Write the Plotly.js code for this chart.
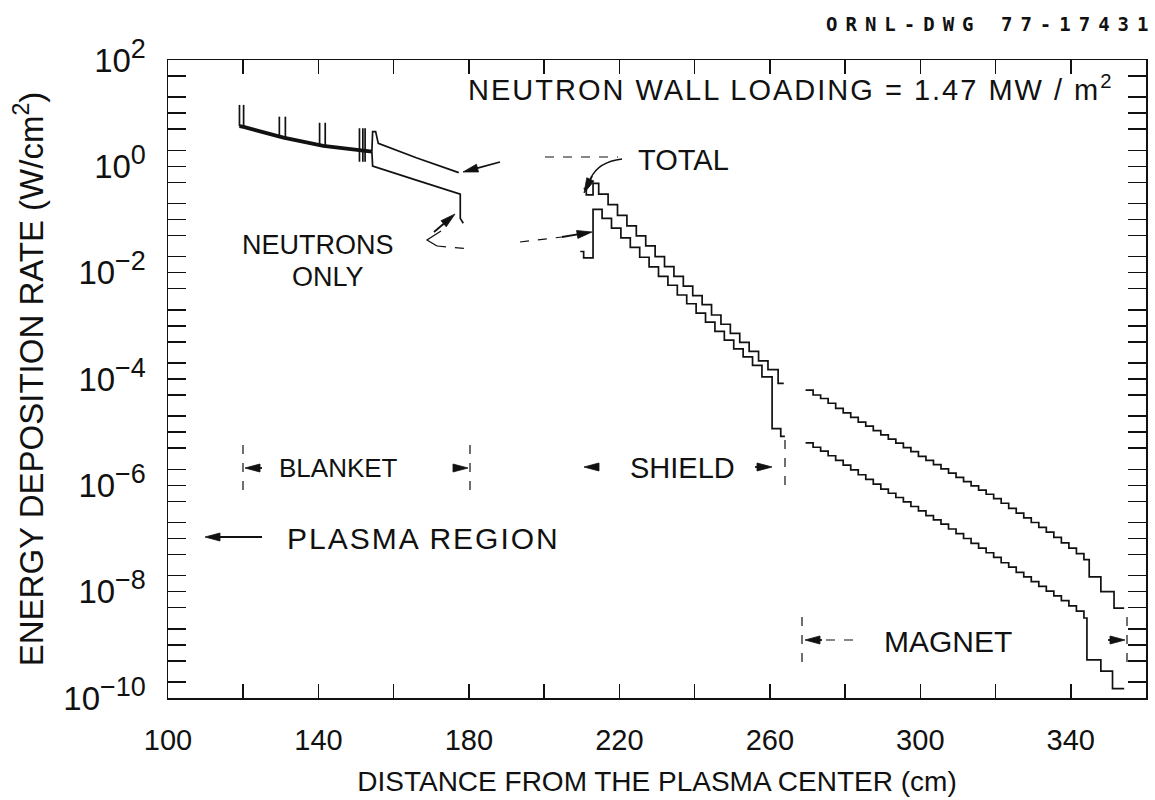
<!DOCTYPE html>
<html>
<head>
<meta charset="utf-8">
<script src="https://cdn.plot.ly/plotly-3.0.1.min.js"></script>
<style>
  html, body { margin: 0; padding: 0; background: #fff; }
  #chart { width: 1155px; height: 800px; }
</style>
</head>
<body>
<div id="chart"></div>
<script>
// ---------------- DATA ----------------
// Blanket region: total and neutrons coincide (heavy line)
const blanketX = [119.0, 120.1, 130.7, 141.3, 154.2];
const blanketY = [5.7, 5.5, 3.46, 2.42, 1.89];

// Narrow spikes in the blanket (structural components)
const spikeX    = [119.0, 120.1, 129.6, 131.2, 140.3, 141.8, 150.9, 151.8, 152.4];
const spikeTop  = [14.3, 14.3, 8.6, 8.6, 6.6, 6.6, 5.2, 5.2, 5.2];
const spikeBase = [5.7, 5.5, 3.6, 3.4, 2.5, 2.4, 1.22, 1.22, 1.22];

// Outer blanket, after the curves separate
const totalOuterX = [154.2, 154.4, 155.2, 155.9, 166.0, 177.3];
const totalOuterY = [1.89, 4.5, 4.5, 2.7, 1.45, 0.76];
const neutronOuterX = [154.2, 154.4, 166.0, 177.7, 177.7, 178.5];
const neutronOuterY = [1.89, 1.01, 0.55, 0.30, 0.105, 0.085];

// Shield region (stepped)
const shieldTotalX = [210.5, 211.2, 213.0, 214.5, 217.0, 219.5, 222.0, 224.5, 227.0, 229.5, 232.0, 234.5,
  237.0, 239.5, 242.0, 244.5, 247.0, 249.5, 252.0, 254.5, 257.0, 259.5, 262.2, 263.7];
const shieldTotalY = [0.38, 0.29, 0.48, 0.30, 0.19, 0.12, 0.076, 0.049, 0.032, 0.020, 0.013, 8.5e-3,
  5.6e-3, 3.7e-3, 2.5e-3, 1.6e-3, 1.07e-3, 7.2e-4, 4.9e-4, 3.3e-4, 2.2e-4, 1.5e-4, 8.3e-5, 8.3e-5];
const shieldNeutronX = [209.6, 210.5, 213.0, 215.4, 217.9, 220.4, 222.9, 225.4, 227.9, 230.4, 232.9, 235.4,
  237.9, 240.4, 242.9, 245.4, 247.9, 250.4, 252.9, 255.4, 257.9, 260.6, 262.9, 264.0];
const shieldNeutronY = [0.025, 0.019, 0.155, 0.105, 0.069, 0.045, 0.030, 0.0195, 0.0129, 8.5e-3, 5.8e-3, 3.8e-3,
  2.6e-3, 1.74e-3, 1.17e-3, 7.9e-4, 5.4e-4, 3.7e-4, 2.6e-4, 1.8e-4, 1.1e-4, 1.17e-5, 8.3e-6, 8.3e-6];

// Magnet region (stepped)
const magnetTotalX = [269.5, 271.5, 273.5, 275.5, 277.5, 279.5, 281.5, 283.5, 285.5, 287.5, 289.5, 291.5,
  293.5, 295.5, 297.5, 299.5, 301.5, 303.5, 305.5, 307.5, 309.5, 311.5, 313.5, 315.5, 317.5, 319.5,
  321.5, 323.5, 325.5, 327.5, 329.5, 331.5, 333.5, 335.5, 337.5, 339.5, 341.5, 343.5,
  344.9, 348.0, 351.5, 354.2];
const magnetTotalY = [6.2e-5, 5.0e-5, 4.3e-5, 3.5e-5, 2.8e-5, 2.3e-5, 1.9e-5, 1.55e-5, 1.3e-5, 1.07e-5,
  8.9e-6, 7.4e-6, 6.2e-6, 5.1e-6, 4.3e-6, 3.5e-6, 2.95e-6, 2.45e-6, 2.04e-6, 1.70e-6, 1.41e-6, 1.17e-6,
  9.8e-7, 8.1e-7, 6.8e-7, 5.6e-7, 4.6e-7, 3.7e-7, 3.0e-7, 2.45e-7, 2.0e-7, 1.62e-7, 1.32e-7, 1.05e-7,
  8.3e-8, 6.6e-8, 5.2e-8, 4.0e-8, 1.9e-8, 1.0e-8, 4.9e-9, 4.9e-9];
const magnetNeutronX = [269.5, 271.5, 273.5, 275.5, 277.5, 279.5, 281.5, 283.5, 285.5, 287.5, 289.5, 291.5,
  293.5, 295.5, 297.5, 299.5, 301.5, 303.5, 305.5, 307.5, 309.5, 311.5, 313.5, 315.5, 317.5, 319.5,
  321.5, 323.5, 325.5, 327.5, 329.5, 331.5, 333.5, 335.5, 337.5, 339.5, 341.5, 343.5,
  344.3, 348.0, 351.1, 354.2];
const magnetNeutronY = [6.3e-6, 5.2e-6, 4.4e-6, 3.6e-6, 2.95e-6, 2.4e-6, 1.95e-6, 1.58e-6, 1.29e-6, 1.05e-6,
  8.5e-7, 7.1e-7, 5.9e-7, 4.9e-7, 4.0e-7, 3.3e-7, 2.7e-7, 2.24e-7, 1.86e-7, 1.51e-7, 1.23e-7, 1.0e-7,
  8.1e-8, 6.6e-8, 5.4e-8, 4.4e-8, 3.5e-8, 2.9e-8, 2.3e-8, 1.9e-8, 1.55e-8, 1.26e-8, 1.02e-8,
  8.3e-9, 6.8e-9, 5.4e-9, 4.3e-9, 3.2e-9, 5.2e-10, 3.2e-10, 1.5e-10, 1.5e-10];

// Ticks and tick labels
const xTickVals = [100, 140, 180, 220, 260, 300, 340];
const xTickText = ['100', '140', '180', '220', '260', '300', '340'];
const xMinorVals = [120, 160, 200, 240, 280, 320];
const yTickVals = [1e-10, 1e-8, 1e-6, 1e-4, 1e-2, 1, 100];
const yExponents = ['−10', '−8', '−6', '−4', '−2', '0', '2'];
const yMinorVals = [2e-10, 5e-10, 1e-9, 2e-9, 5e-9, 2e-8, 5e-8, 1e-7, 2e-7, 5e-7,
  2e-6, 5e-6, 1e-5, 2e-5, 5e-5, 2e-4, 5e-4, 1e-3, 2e-3, 5e-3, 2e-2, 5e-2,
  1e-1, 2e-1, 5e-1, 2, 5, 10, 20, 50];
const yTickText = yExponents.map(e => '10<sup><span style="font-size:27px">' + e + '</span></sup>');

// ---------------- LAYOUT HELPERS ----------------
const W = 1155, H = 800;
const M = { l: 168, r: 9, t: 60, b: 102 };
const PW = W - M.l - M.r, PH = H - M.t - M.b;
const P = px => (px - M.l) / PW;          // pixel x -> paper x
const Q = py => (H - M.b - py) / PH;      // pixel y -> paper y
const FONT = 'Liberation Sans, Arial, sans-serif';
const INK = '#111';

// spikes as one trace with gaps
const spX = [], spY = [];
spikeX.forEach((x, i) => { spX.push(x, x, null); spY.push(spikeBase[i], spikeTop[i], null); });

const lineThin = { color: INK, width: 1.7 };
const stepLine = Object.assign({ shape: 'hv' }, lineThin);
const traces = [
  { x: blanketX, y: blanketY, mode: 'lines', line: { color: INK, width: 3.8 }, name: 'Total + neutrons' },
  { x: spX, y: spY, mode: 'lines', line: { color: INK, width: 1.7 }, name: 'spikes' },
  { x: totalOuterX, y: totalOuterY, mode: 'lines', line: lineThin, name: 'Total' },
  { x: neutronOuterX, y: neutronOuterY, mode: 'lines', line: lineThin, name: 'Neutrons' },
  { x: shieldTotalX, y: shieldTotalY, mode: 'lines', line: stepLine, name: 'Total' },
  { x: shieldNeutronX, y: shieldNeutronY, mode: 'lines', line: stepLine, name: 'Neutrons' },
  { x: magnetTotalX, y: magnetTotalY, mode: 'lines', line: stepLine, name: 'Total' },
  { x: magnetNeutronX, y: magnetNeutronY, mode: 'lines', line: stepLine, name: 'Neutrons' }
];

function txt(text, px, py, size, anchor, extra) {
  return Object.assign({ text: text, xref: 'paper', yref: 'paper', x: P(px), y: Q(py),
    xanchor: anchor || 'left', yanchor: 'middle', showarrow: false,
    font: { family: FONT, size: size, color: INK } }, extra || {});
}
const pt = (x, y) => P(x).toFixed(5) + ',' + Q(y).toFixed(5);
function seg(x0, y0, x1, y1, dash, width) {
  return { type: 'line', xref: 'paper', yref: 'paper', x0: P(x0), y0: Q(y0), x1: P(x1), y1: Q(y1),
    line: { color: INK, width: width || 1.2, dash: dash || 'dash' } };
}
function path(d) {
  return { type: 'path', xref: 'paper', yref: 'paper', path: d, line: { color: INK, width: 1.3 } };
}
// arrow drawn from pixel tail (tx,ty) to head (hx,hy): a stem plus a filled slim head
function arrow(hx, hy, tx, ty, len, half) {
  len = len || 15; half = half || 4;
  const dx = hx - tx, dy = hy - ty, L = Math.hypot(dx, dy), ux = dx / L, uy = dy / L;
  const bx = hx - ux * len, by = hy - uy * len;
  const px = -uy * half, py = ux * half;
  const out = [{
    type: 'path', xref: 'paper', yref: 'paper',
    path: 'M ' + pt(hx, hy) + ' L ' + pt(bx + px, by + py) + ' L ' + pt(bx - px, by - py) + ' Z',
    fillcolor: INK, line: { color: INK, width: 0.8 }
  }];
  if (L > len) out.push(seg(tx, ty, bx + ux * 2, by + uy * 2, 'solid', 1.8));
  return out;
}

const annotations = [
  txt('<span style="letter-spacing:8px">ORNL-DWG 77-17431</span>', 1158, 24, 19, 'right',
      { font: { family: 'DejaVu Sans Mono, monospace', size: 19, color: INK, weight: 'bold' } }),
  txt('<span style="letter-spacing:2px">NEUTRON WALL LOADING = 1.47 MW / m<sup>2</sup></span>', 466, 88, 29),
  txt('TOTAL', 636, 160, 29),
  txt('NEUTRONS', 240, 245, 27),
  txt('ONLY', 290, 277, 27),
  txt('BLANKET', 277, 468, 26),
  txt('SHIELD', 628, 468, 29),
  txt('<span style="letter-spacing:2px">PLASMA REGION</span>', 285, 538, 30),
  txt('MAGNET', 882, 641, 30)
];

const shapes = [].concat(
  seg(243, 445, 243, 492), seg(470, 445, 470, 492),
  seg(785, 440, 785, 490),
  seg(802, 617, 802, 665), seg(1127, 617, 1127, 665),
  seg(826, 640, 862, 640),
  seg(545, 157, 618, 157),
  seg(520, 242, 562, 237),
  seg(437, 246, 470, 249),
  path('M ' + pt(622, 159) + ' Q ' + pt(598, 162) + ' ' + pt(591, 178)),
  path('M ' + pt(441, 231) + ' L ' + pt(427, 240) + ' L ' + pt(437, 246)),
  arrow(245, 468, 262, 468),
  arrow(468, 468, 455, 468),
  arrow(584, 467, 598, 467),
  arrow(772, 467, 755, 467),
  arrow(205, 537, 262, 537),
  arrow(805, 640, 822, 640),
  arrow(1125, 640, 1108, 640),
  arrow(463, 172, 500, 162),
  arrow(584, 193, 592, 176),
  arrow(455, 214, 434, 232),
  arrow(592, 232, 562, 237)
);

const layout = {
  width: W, height: H,
  margin: M,
  paper_bgcolor: '#fff', plot_bgcolor: '#fff',
  showlegend: false,
  font: { family: FONT, color: INK },
  xaxis: {
    range: [100, 360], tickmode: 'array', tickvals: xTickVals, ticktext: xTickText,
    ticks: 'inside', ticklen: 14, tickwidth: 1.5, tickcolor: INK,
    minor: { tickmode: 'array', tickvals: xMinorVals, ticks: 'inside', ticklen: 14, tickwidth: 1.5, tickcolor: INK, showgrid: false },
    showline: true, linecolor: INK, linewidth: 1.5, mirror: 'ticks',
    showgrid: false, zeroline: false,
    tickfont: { family: FONT, size: 29, color: INK }, ticklabelstandoff: 16,
    title: { text: 'DISTANCE FROM THE PLASMA CENTER (cm)', font: { family: FONT, size: 28, color: INK }, standoff: 16 }
  },
  yaxis: {
    type: 'log', range: [-10, 2], tickmode: 'array', tickvals: yTickVals, ticktext: yTickText,
    ticks: 'inside', ticklen: 18, tickwidth: 1.5, tickcolor: INK,
    minor: { tickmode: 'array', tickvals: yMinorVals, ticks: 'inside', ticklen: 18, tickwidth: 1.5, tickcolor: INK, showgrid: false },
    showline: true, linecolor: INK, linewidth: 1.5, mirror: 'ticks',
    showgrid: false, zeroline: false,
    tickfont: { family: FONT, size: 33, color: INK }, ticklabelstandoff: 14,
    title: { text: '\u00a0\u00a0\u00a0\u00a0\u00a0ENERGY DEPOSITION RATE (W/cm<sup>2</sup>)', font: { family: FONT, size: 33, color: INK }, standoff: 10 }
  },
  annotations: annotations,
  shapes: shapes
};

Plotly.newPlot('chart', traces, layout, { staticPlot: true, displayModeBar: false });
</script>
</body>
</html>
